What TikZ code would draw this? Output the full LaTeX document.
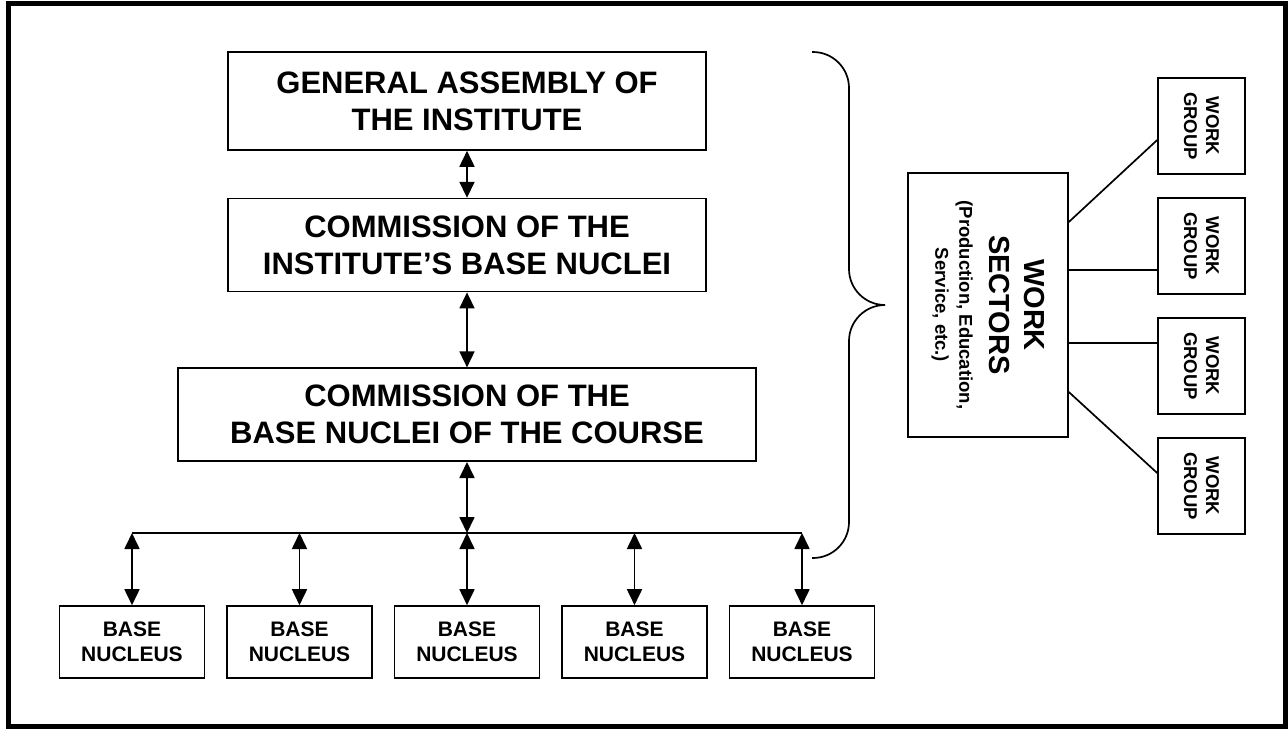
\documentclass[tikz,border=0pt]{standalone}
\usepackage{fontspec}
\setmainfont{Liberation Sans}
\usetikzlibrary{arrows.meta, positioning}

\tikzset{
  box/.style = {draw, line width=1.6pt, inner sep=0pt, align=center,
                font=\fontsize{31}{37}\selectfont\bfseries},
  nucleus/.style = {box, minimum width=145pt, minimum height=72pt,
                    font=\fontsize{21}{25}\selectfont\bfseries},
  sector/.style = {box, rotate=-90, minimum width=264pt, minimum height=160pt,
                   font=\fontsize{29}{35}\selectfont\bfseries},
  group/.style = {box, rotate=-90, minimum width=96pt, minimum height=87pt,
                  font=\fontsize{18.5}{22}\selectfont\bfseries},
}

\begin{document}
\begin{tikzpicture}[x=1pt, y=-1pt, line width=1.7pt, >={Triangle[width=15pt,length=16pt]}]
  \useasboundingbox (0,0) rectangle (1288,729);
  \draw[line width=5pt] (8,3.5) rectangle (1285,726);

  % left column
  \node[box, minimum width=478pt, minimum height=98pt] (assembly) at (467,101) {GENERAL ASSEMBLY OF\\THE INSTITUTE};
  \node[box, minimum width=478pt, minimum height=93pt] (instcom) [below=47pt of assembly] {COMMISSION OF THE\\INSTITUTE’S BASE NUCLEI};
  \node[box, minimum width=578pt, minimum height=93pt] (coursecom) [below=75pt of instcom] {COMMISSION OF THE\\BASE NUCLEI OF THE COURSE};

  \foreach \x [count=\i] in {132,299.5,467,634.5,802} {
    \node[nucleus] (nuc\i) at (\x,642) {BASE\\NUCLEUS};
    \coordinate (j\i) at (\x,533);
  }
  \draw (j1) -- (j5);
  \path[<->]
    (assembly) edge (instcom)
    (instcom) edge (coursecom)
    (coursecom) edge (j3);
  \foreach \i in {1,...,5}
    \draw[<->] (j\i) -- (nuc\i);

  % brace
  \draw[rounded corners=36pt] (812,52) -- (849,52) -- (849,305) -- (885,305);
  \draw[rounded corners=36pt] (885,305) -- (849,305) -- (849,558) -- (812,558);

  % right side
  \node[sector] (sectors) at (988,305) {WORK\\SECTORS\\[-5pt]{\fontsize{18.5}{24}\selectfont (Production, Education,}\\[-11pt]{\fontsize{18.5}{24}\selectfont Service, etc.)}};
  \foreach \i in {1,...,4}
    \node[group] (wg\i) at (1201.5,6+120*\i) {WORK\\GROUP};
  \foreach \a/\b [count=\i] in {83/-14, 35/-24, -38/23, -87/13}
    \draw ([yshift=\a pt]sectors.north) -- ([yshift=\b pt]wg\i.south);
\end{tikzpicture}
\end{document}
